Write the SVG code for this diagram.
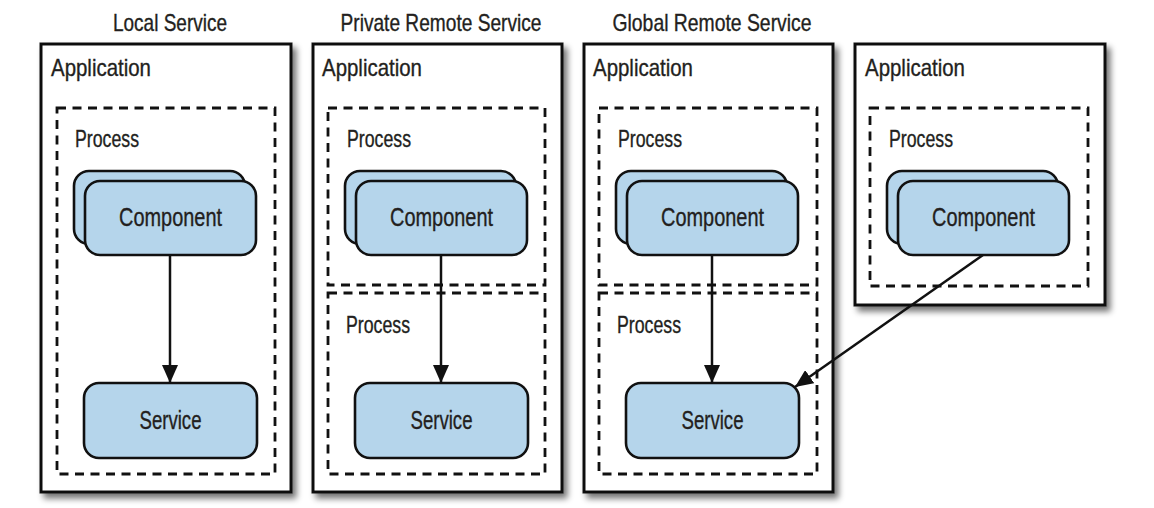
<svg xmlns="http://www.w3.org/2000/svg" width="1154" height="508" viewBox="0 0 1154 508">
<style>
text{font-family:"Liberation Sans",Arial,sans-serif;font-size:24px;fill:#231f20;stroke:#231f20;stroke-width:0.35}
.title{text-anchor:middle;font-size:24px}
.app{fill:#fff;stroke:#111;stroke-width:3;filter:url(#sh)}
.proc{fill:none;stroke:#111;stroke-width:2.8;stroke-dasharray:9 6.5}
.comp{fill:#b5d5eb;stroke:#111;stroke-width:2.6}
.lbl{text-anchor:middle;font-size:26px}
.conn{stroke:#111;stroke-width:2.5;fill:none;marker-end:url(#ah)}
</style>
<defs>
<filter id="sh" x="-10%" y="-10%" width="125%" height="125%">
<feGaussianBlur in="SourceAlpha" stdDeviation="3"/>
<feOffset dx="4" dy="5" result="b"/>
<feComponentTransfer><feFuncA type="linear" slope="0.55"/></feComponentTransfer>
<feMerge><feMergeNode/><feMergeNode in="SourceGraphic"/></feMerge>
</filter>
<marker id="ah" markerWidth="18" markerHeight="16" refX="18" refY="8" orient="auto" markerUnits="userSpaceOnUse">
<path d="M0,0 L18,8 L0,16 Z" fill="#111"/>
</marker>
</defs>
<rect width="1154" height="508" fill="#fff"/>
<g id="titles">
<text class="title" x="170" y="31" textLength="114" lengthAdjust="spacingAndGlyphs">Local Service</text>
<text class="title" x="441" y="31" textLength="201" lengthAdjust="spacingAndGlyphs">Private Remote Service</text>
<text class="title" x="712" y="31" textLength="199" lengthAdjust="spacingAndGlyphs">Global Remote Service</text>
</g>
<g id="app1">
<rect class="app" x="41" y="44" width="250" height="448"/>
<text x="51" y="76" textLength="100" lengthAdjust="spacingAndGlyphs">Application</text>
</g>
<g id="process1">
<rect class="proc" x="57" y="108" width="218" height="366"/>
<text x="75" y="147" textLength="64" lengthAdjust="spacingAndGlyphs">Process</text>
</g>
<g id="component1">
<rect class="comp" x="74" y="171" width="171" height="73" rx="15"/>
<rect class="comp" x="85" y="181" width="171" height="74" rx="15"/>
<text class="lbl" x="170.5" y="226" textLength="103" lengthAdjust="spacingAndGlyphs">Component</text>
</g>
<g id="service1">
<rect class="comp" x="84" y="383" width="173" height="75" rx="15"/>
<text class="lbl" x="170.5" y="429" textLength="62" lengthAdjust="spacingAndGlyphs">Service</text>
</g>
<g id="app2">
<rect class="app" x="313" y="44" width="249" height="448"/>
<text x="322" y="76" textLength="100" lengthAdjust="spacingAndGlyphs">Application</text>
</g>
<g id="process2a">
<rect class="proc" x="328" y="108" width="217" height="177"/>
<text x="347" y="147" textLength="64" lengthAdjust="spacingAndGlyphs">Process</text>
</g>
<g id="component2">
<rect class="comp" x="345" y="171" width="171" height="73" rx="15"/>
<rect class="comp" x="356" y="181" width="171" height="74" rx="15"/>
<text class="lbl" x="441.5" y="226" textLength="103" lengthAdjust="spacingAndGlyphs">Component</text>
</g>
<g id="process2b">
<rect class="proc" x="328" y="293" width="217" height="181"/>
<text x="346" y="333" textLength="64" lengthAdjust="spacingAndGlyphs">Process</text>
</g>
<g id="service2">
<rect class="comp" x="355" y="383" width="173" height="75" rx="15"/>
<text class="lbl" x="441.5" y="429" textLength="62" lengthAdjust="spacingAndGlyphs">Service</text>
</g>
<g id="app3">
<rect class="app" x="584" y="44" width="249" height="448"/>
<text x="593" y="76" textLength="100" lengthAdjust="spacingAndGlyphs">Application</text>
</g>
<g id="process3a">
<rect class="proc" x="599" y="108" width="218" height="177"/>
<text x="618" y="147" textLength="64" lengthAdjust="spacingAndGlyphs">Process</text>
</g>
<g id="component3">
<rect class="comp" x="616" y="171" width="171" height="73" rx="15"/>
<rect class="comp" x="627" y="181" width="171" height="74" rx="15"/>
<text class="lbl" x="712.5" y="226" textLength="103" lengthAdjust="spacingAndGlyphs">Component</text>
</g>
<g id="process3b">
<rect class="proc" x="599" y="293" width="218" height="181"/>
<text x="617" y="333" textLength="64" lengthAdjust="spacingAndGlyphs">Process</text>
</g>
<g id="service3">
<rect class="comp" x="626" y="383" width="173" height="75" rx="15"/>
<text class="lbl" x="712.5" y="429" textLength="62" lengthAdjust="spacingAndGlyphs">Service</text>
</g>
<g id="app4">
<rect class="app" x="855" y="44" width="250" height="261"/>
<text x="865" y="76" textLength="100" lengthAdjust="spacingAndGlyphs">Application</text>
</g>
<g id="process4">
<rect class="proc" x="870" y="108" width="218" height="178"/>
<text x="889" y="147" textLength="64" lengthAdjust="spacingAndGlyphs">Process</text>
</g>
<g id="component4">
<rect class="comp" x="887" y="171" width="171" height="73" rx="15"/>
<rect class="comp" x="898" y="181" width="171" height="74" rx="15"/>
<text class="lbl" x="983.5" y="226" textLength="103" lengthAdjust="spacingAndGlyphs">Component</text>
</g>
<g id="connectors">
<line class="conn" x1="170" y1="255" x2="170" y2="383"/>
<line class="conn" x1="441" y1="255" x2="441" y2="383"/>
<line class="conn" x1="712" y1="255" x2="712" y2="383"/>
<line class="conn" x1="983" y1="255" x2="795" y2="387"/>
</g>
</svg>
